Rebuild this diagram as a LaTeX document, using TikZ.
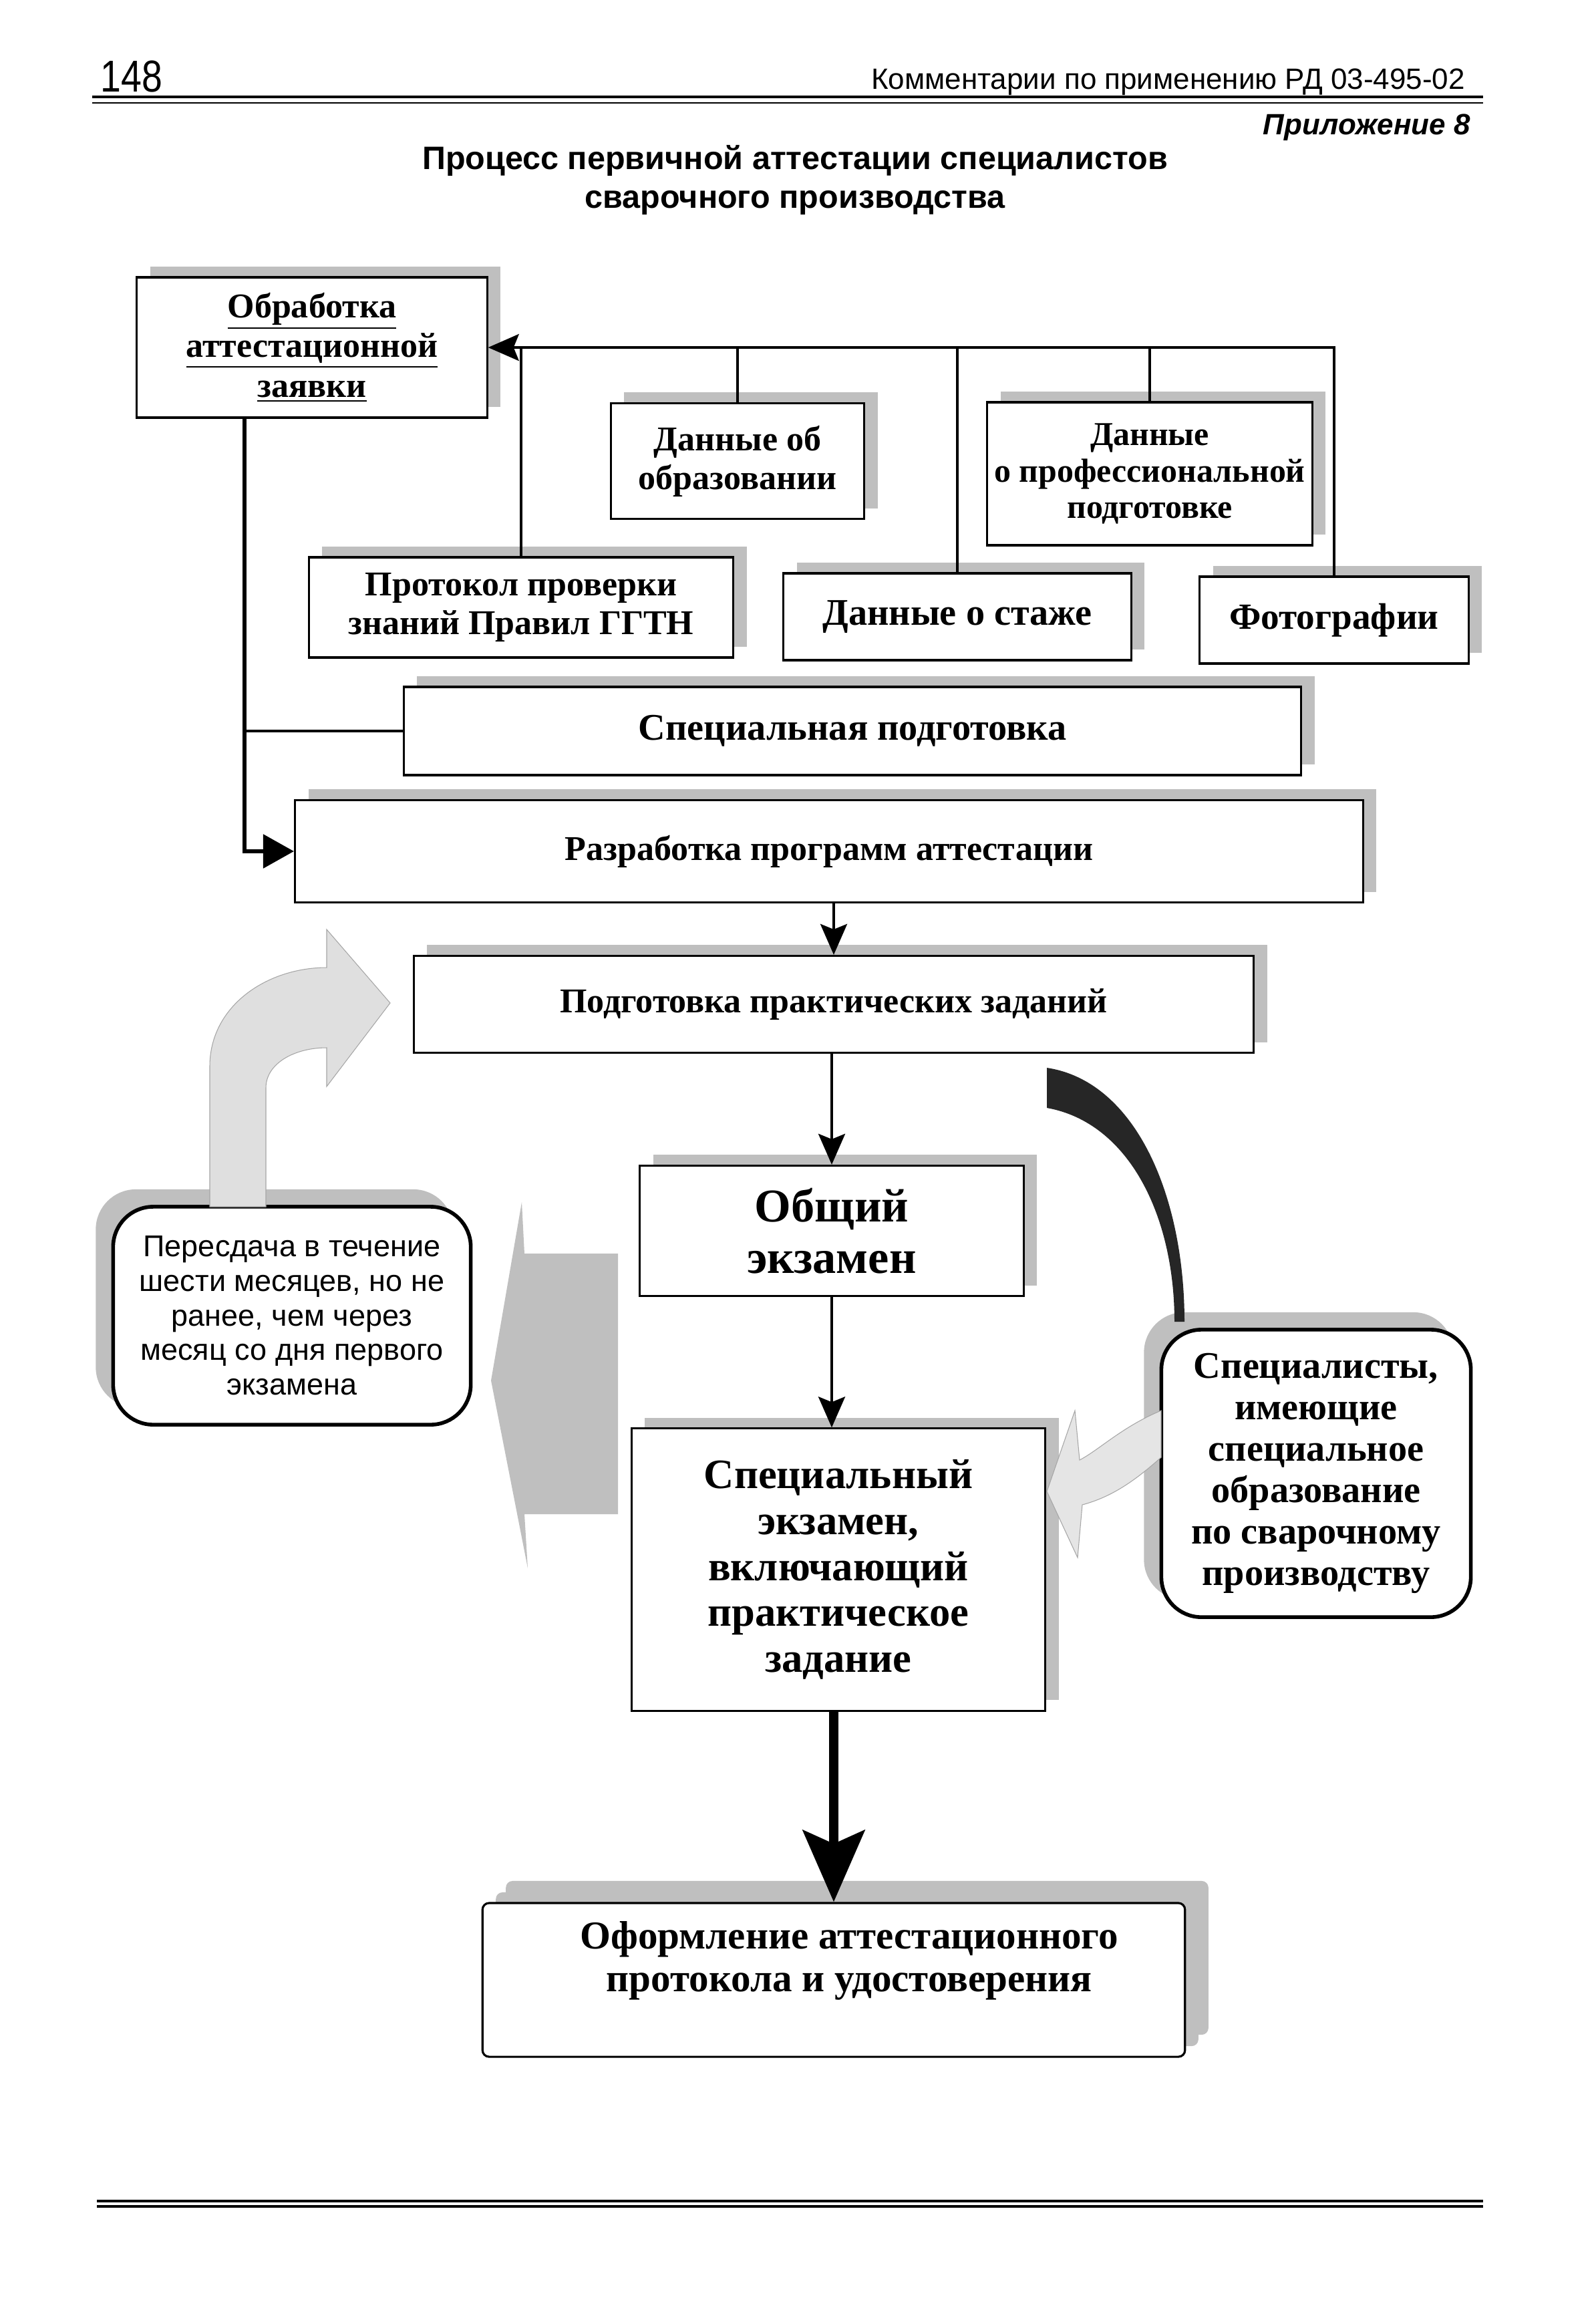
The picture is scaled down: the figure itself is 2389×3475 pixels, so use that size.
\documentclass[tikz,border=0pt]{standalone}
\usepackage{fontspec}
\setmainfont{Liberation Serif}
\setsansfont{Liberation Sans}
\usetikzlibrary{positioning,arrows.meta,shadows}

\tikzstyle{plain box} = [rectangle, draw=black, line width=0.9pt, fill=white, align=center, inner sep=3pt]
\tikzstyle{process} = [plain box, font=\bfseries\fontsize{14.8}{16.5}\selectfont, drop shadow={shadow xshift=0.2cm, shadow yshift=0.16cm, fill=gray!50, opacity=1}]
\tikzstyle{note} = [plain box, rounded corners=0.6cm, line width=1.6pt, drop shadow={shadow xshift=-0.26cm, shadow yshift=0.26cm, fill=gray!50, opacity=1}]
\tikzstyle{bus} = [line width=1.1pt]
\tikzstyle{arrow} = [line width=1.1pt, -{Stealth[length=0.46cm, width=0.4cm, inset=0.08cm]}]
\tikzstyle{fatarrow} = [line width=1.6pt, -{Triangle[length=0.46cm, width=0.5cm]}]
\tikzstyle{bigarrow} = [line width=4.2pt, -{Stealth[length=1.07cm, width=0.92cm, inset=0.2cm]}]

\begin{document}
\begin{tikzpicture}[x=0.01cm, y=-0.01cm]
        \useasboundingbox (0,0) rectangle (2389,3475);

        % page head
        \node (page) [anchor=base west, font=\sffamily\fontsize{19}{19}\selectfont] at (138,137) {\scalebox{0.83}[1]{148}};
        \node (head) [anchor=base east, font=\sffamily\fontsize{12.5}{14}\selectfont] at (2205,133) {Комментарии по применению РД 03-495-02};
        \draw [line width=1.2pt] (138,145) -- (2220,145);
        \draw [line width=0.6pt] (138,154) -- (2220,154);
        \node (appx) [anchor=base east, font=\sffamily\bfseries\itshape\fontsize{12.5}{14}\selectfont] at (2213,201) {Приложение 8};
        \node (title) [anchor=north, align=center, font=\sffamily\bfseries\fontsize{13.8}{16.5}\selectfont] at (1190,205) {Процесс первичной аттестации специалистов\\сварочного производства};

        % documents
        \node (obr) [process, minimum width=5.24cm, minimum height=2.1cm, font=\bfseries\fontsize{14.8}{17}\selectfont] at (467,520) {\underline{Обработка}\\\underline{аттестационной}\\\underline{заявки}};
        \node (edu) [process, minimum width=3.79cm, minimum height=1.73cm] at (1104,690) {Данные об\\образовании};
        \node (prof) [process, minimum width=4.72cm, minimum height=2.14cm, font=\bfseries\fontsize{14.2}{15.5}\selectfont] at (1721,709) {Данные\\о профессиональной\\подготовке};
        \node (proto) [process, minimum width=6.35cm, minimum height=1.5cm, font=\bfseries\fontsize{14.8}{16.5}\selectfont] at (780,909) {Протокол проверки\\знаний Правил ГГТН};
        \node (stazh) [process, minimum width=5.2cm, minimum height=1.3cm, font=\bfseries\fontsize{16}{17}\selectfont] at (1433,923) {Данные о стаже};
        \node (photo) [process, minimum width=4.02cm, minimum height=1.3cm, font=\bfseries\fontsize{15.7}{17}\selectfont] at (1997,928) {Фотографии};
        \node (spec) [process, minimum width=13.43cm, minimum height=1.32cm, font=\bfseries\fontsize{16}{17}\selectfont] at (1276,1094) {Специальная подготовка};
        \node (prog) [process, minimum width=15.98cm, minimum height=1.53cm] at (1241,1274) {Разработка программ аттестации};
        \node (prep) [process, minimum width=12.57cm, minimum height=1.45cm] at (1248,1503) {Подготовка практических заданий};

        % exams
        \node (gen) [process, minimum width=5.74cm, minimum height=1.95cm, font=\bfseries\fontsize{20}{22}\selectfont] at (1245,1842) {Общий\\экзамен};
        \node (special) [process, minimum width=6.19cm, minimum height=4.22cm, font=\bfseries\fontsize{17.8}{19.5}\selectfont] at (1255,2349) {Специальный\\экзамен,\\включающий\\практическое\\задание};
        \node (retake) [note, minimum width=5.35cm, minimum height=3.26cm, font=\sffamily\fontsize{12.8}{14.7}\selectfont] at (437,1969) {Пересдача в течение\\шести месяцев, но не\\ранее, чем через\\месяц со дня первого\\экзамена};
        \node (experts) [note, minimum width=4.63cm, minimum height=4.3cm, font=\bfseries\fontsize{16}{17.6}\selectfont] at (1970,2205) {Специалисты,\\имеющие\\специальное\\образование\\по сварочному\\производству};
        \node (final) [process, rounded corners=0.1cm, minimum width=10.51cm, minimum height=2.3cm, font=\bfseries\fontsize{16.8}{18.3}\selectfont, drop shadow={shadow xshift=0.35cm, shadow yshift=0.33cm, fill=gray!50, opacity=1}] at (1248,2963) {\begin{tabular}{@{\hspace{0.46cm}}c@{}}Оформление аттестационного\\протокола и удостоверения\\[0.55cm]\end{tabular}};

        % top collector
        \draw [arrow] (photo.north) |- (obr.east);
        \draw [bus] (edu.north) -- (edu.north |- obr.east);
        \draw [bus] (prof.north) -- (prof.north |- obr.east);
        \draw [bus] (stazh.north) -- (stazh.north |- obr.east);
        \draw [bus] (proto.north) -- (proto.north |- obr.east);

        % left line
        \coordinate (turn) at (366,1274);
        \draw [fatarrow] (obr.south -| turn) -- (turn) -- (prog.west);
        \draw [bus] (spec.west) -- (spec.west -| turn);

        \draw [arrow] (prog.south -| prep.north) -- (prep.north);
        \draw [arrow] (prep.south -| gen.north) -- (gen.north);
        \draw [arrow] (gen.south) -- (gen.south |- special.north);
        \draw [bigarrow] (special.south -| final.north) -- (final.north);

        % block arrows
        \draw [draw=gray!70, line width=0.3pt, fill=gray!25] (314,1806) -- (314,1596) .. controls (314,1505) and (400,1448) .. (489,1448) -- (489,1391) -- (584,1501) -- (489,1626) -- (489,1568) .. controls (440,1568) and (398,1592) .. (398,1628) -- (398,1806) -- cycle;
        \fill [gray!50] (925,1876) -- (785,1876) -- (781,1799) -- (735,2066) -- (790,2347) -- (785,2266) -- (925,2266) -- cycle;
        \fill [black!85] (1567,1598) .. controls (1700,1618) and (1773,1790) .. (1773,1978) -- (1758,1978) .. controls (1758,1820) and (1690,1680) .. (1567,1658) -- cycle;
        \draw [draw=gray!70, line width=0.3pt, fill=gray!20] (1738,2111) .. controls (1680,2135) and (1645,2170) .. (1616,2185) -- (1609,2111) -- (1567,2232) -- (1613,2331) -- (1620,2252) .. controls (1665,2240) and (1700,2215) .. (1738,2181) -- cycle;

        % page foot
        \draw [line width=1.2pt] (145,3294) -- (2220,3294);
        \draw [line width=1.2pt] (145,3302) -- (2220,3302);
\end{tikzpicture}
\end{document}
